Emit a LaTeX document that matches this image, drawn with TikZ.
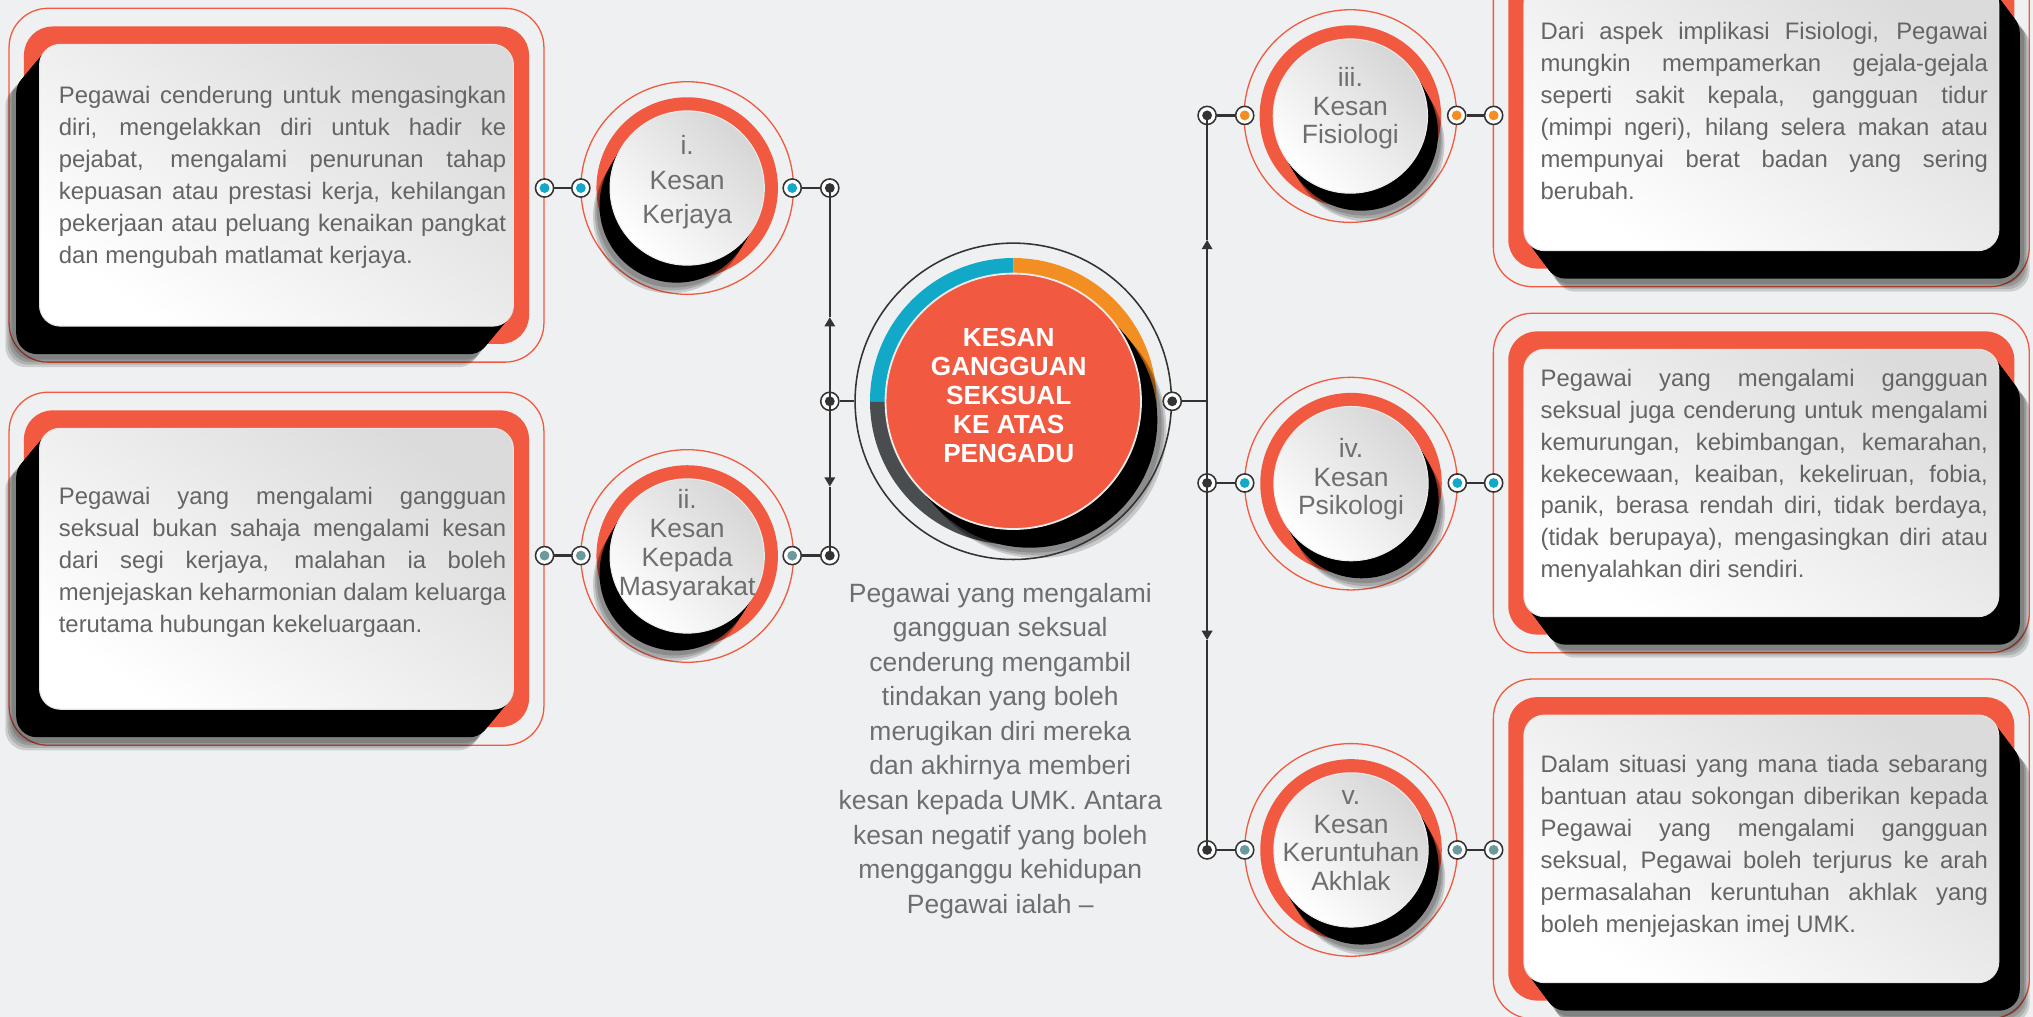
\documentclass[tikz,border=0pt]{standalone}
\usepackage{fontspec}
\setmainfont{Liberation Sans}
\usetikzlibrary{arrows.meta}
\definecolor{bgc}{RGB}{238,240,241}
\definecolor{redc}{RGB}{241,90,64}
\definecolor{cyanc}{RGB}{18,168,200}
\definecolor{orc}{RGB}{243,142,34}
\definecolor{tealc}{RGB}{108,154,156}
\definecolor{darkc}{RGB}{51,51,51}
\definecolor{ringd}{RGB}{74,77,79}
\definecolor{txtc}{RGB}{99,100,102}
\definecolor{ctxt}{RGB}{109,110,112}
\tikzset{
  cardline/.style={draw=redc,line width=0.5pt,rounded corners=15pt},
  cardred/.style={fill=redc,rounded corners=11pt},
  cardwhite/.style={top color=black!14,bottom color=white,shading angle=-35,draw=black!10,line width=0.4pt,rounded corners=8pt},
  discwhite/.style={top color=black!16,bottom color=white,shading angle=-45,draw=black!8,line width=0.4pt},
  conn/.style={draw=darkc,line width=0.9pt},
  tip/.style={-{Triangle[length=3.6pt,width=4pt]}},
  dotring/.style={circle,draw=darkc,fill=white,line width=0.6pt,minimum size=7pt,inner sep=0pt},
  dotin/.style={dotring,path picture={\fill[#1] (path picture bounding box.center) circle (1.9pt);}},
  cardtxt/.style={text=txtc,font=\fontsize{9.2}{12.3}\selectfont,inner sep=0pt},
  circtxt/.style={text=ctxt,font=\fontsize{10.2}{12}\selectfont,inner sep=0pt},
  midtxt/.style={text=ctxt,font=\fontsize{10.2}{13}\selectfont,inner sep=0pt},
  hubtxt/.style={text=white,font=\bfseries\fontsize{10.1}{11}\selectfont,inner sep=0pt}
}
% card: white x1 y1 x2 y2 (y downward), shadow dx dy
\newcommand\crd[6]{%
  \draw[cardline] ({#1-23.5},{-(#2)+27.8}) rectangle ({#3+23.5},{-(#4)-27.8});
  \fill[cardred] ({#1-12},{-(#2)+13.8}) rectangle ({#3+12},{-(#4)-13.8});
  \foreach \q in {1.32,1.24,1.16,1.08}{\fill[black,opacity=0.14,rounded corners=8pt] ({#1+(#5)*\q},{-(#2)-(#6)*\q}) rectangle ({#3+(#5)*\q},{-(#4)-(#6)*\q});}
  \foreach \q in {0,0.1,...,1}{\fill[black,rounded corners=8pt] ({#1+(#5)*\q},{-(#2)-(#6)*\q}) rectangle ({#3+(#5)*\q},{-(#4)-(#6)*\q});}
  \shade[cardwhite] (#1,{-(#2)}) rectangle (#3,{-(#4)});
}
% bubble: cx cy side
\newcommand\bub[3]{%
  \draw[redc,line width=0.5pt] (#1,{-(#2)}) circle (82);
  \fill[redc] (#1,{-(#2)}) circle (70);
  \foreach \q in {1.45,1.3,1.15}{\fill[black,opacity=0.16] ({#1+(#3)*9*\q},{-(#2)-15*\q}) circle (59.5);}
  \foreach \q in {0,0.1,...,1}{\fill[black] ({#1+(#3)*9*\q},{-(#2)-15*\q}) circle (59.5);}
  \shade[discwhite] (#1,{-(#2)}) circle (59.5);
}
\newcommand\ctext[5]{%
  \foreach \myl [count=\myi from 0] in {#5}{\node[circtxt,anchor=base] (#1\myi) at (#2,{-(#3+#4*\myi)}) {\myl};}
}
\newcommand\ptext[6]{%
  \foreach \myl [count=\myi from 0] in {#4}{\node[cardtxt,anchor=base west] (#1\myi) at (#2,{-(#3+24.65*\myi)}) {\makebox[172.5pt][s]{\myl}};}
  \node[cardtxt,anchor=base west] (#1z) at (#2,{-(#3+24.65*#6)}) {#5};
}
\begin{document}
\begin{tikzpicture}[x=0.5pt,y=0.5pt]
\useasboundingbox (0,0) rectangle (1568,-784);
\clip (0,0) rectangle (1568,-784);
\fill[bgc] (0,0) rectangle (1568,-784);

% cards
\crd{30.5}{34.2}{396}{251.5}{-20}{24}
\crd{30.5}{330.3}{396}{547}{-20}{24}
\crd{1175.3}{-12.7}{1541.6}{193.3}{18}{24}
\crd{1175.3}{269.4}{1541.6}{475.6}{18}{24}
\crd{1175.3}{551.5}{1541.6}{757.9}{18}{24}

% bubbles
\bub{530}{145}{-1}
\bub{530}{428.8}{-1}
\bub{1041.5}{89.5}{1}
\bub{1042}{373}{1}
\bub{1042}{655.5}{1}

% hub
\fill[cyanc] (781.5,-309.5) -- ++(180:110.5) arc[start angle=180,end angle=90,radius=110.5] -- cycle;
\fill[orc] (781.5,-309.5) -- ++(90:110.5) arc[start angle=90,end angle=0,radius=110.5] -- cycle;
\fill[ringd] (781.5,-309.5) -- ++(0:110.5) arc[start angle=0,end angle=-180,radius=110.5] -- cycle;
\foreach \q in {1.4,1.27,1.14}{\fill[black,opacity=0.16] ({781.5+14*\q},{-309.5-16*\q}) circle (98.5);}
\foreach \q in {0,0.1,...,1}{\fill[black] ({781.5+14*\q},{-309.5-16*\q}) circle (98.5);}
\filldraw[fill=redc,draw=white!92!black,line width=0.7pt] (781.5,-309.5) circle (98.5);
\node[circle,draw=darkc,line width=0.6pt,minimum size=122pt,inner sep=0pt] (hub) at (781.5,-309.5) {};

% dots
\node[dotin=cyanc] (A1) at (420,-145) {};
\node[dotin=cyanc] (A2) at (448,-145) {};
\node[dotin=cyanc] (A3) at (611,-145) {};
\node[dotin=darkc] (A4) at (640,-145) {};
\node[dotin=tealc] (B1) at (420,-428.5) {};
\node[dotin=tealc] (B2) at (448,-428.5) {};
\node[dotin=tealc] (B3) at (611,-428.5) {};
\node[dotin=darkc] (B4) at (640,-428.5) {};
\node[dotin=darkc] (Lm) at (640,-309.5) {};
\node[dotin=darkc] (Hc) at (hub.east) {};
\node[dotin=darkc] (C1) at (931,-89) {};
\node[dotin=orc] (C2) at (960,-89) {};
\node[dotin=orc] (C3) at (1123.5,-89) {};
\node[dotin=orc] (C4) at (1152,-89) {};
\node[dotin=darkc] (D1) at (931,-372.5) {};
\node[dotin=cyanc] (D2) at (960,-372.5) {};
\node[dotin=cyanc] (D3) at (1124,-372.5) {};
\node[dotin=cyanc] (D4) at (1152,-372.5) {};
\node[dotin=darkc] (E1) at (931,-655.5) {};
\node[dotin=tealc] (E2) at (960,-655.5) {};
\node[dotin=tealc] (E3) at (1124,-655.5) {};
\node[dotin=tealc] (E4) at (1152,-655.5) {};
\coordinate (Rj) at (931,-309.5);
\coordinate (aLU) at (640,-244.6);
\coordinate (aLD) at (640,-375.3);
\coordinate (aRU) at (931,-185);
\coordinate (aRD) at (931,-493.6);

% connectors
\draw[conn] (A1) -- (A2);
\draw[conn] (A3) -- (A4);
\draw[conn] (B1) -- (B2);
\draw[conn] (B3) -- (B4);
\draw[conn] (C1) -- (C2);
\draw[conn] (C3) -- (C4);
\draw[conn] (D1) -- (D2);
\draw[conn] (D3) -- (D4);
\draw[conn] (E1) -- (E2);
\draw[conn] (E3) -- (E4);
\draw[conn] (Lm) -- (hub.west);
\draw[conn] (Hc) -- (Rj);
\draw[conn,tip] (Lm.center) -- (aLU);
\draw[conn] (aLU) -- (A4.center);
\draw[conn,tip] (Lm.center) -- (aLD);
\draw[conn] (aLD) -- (B4.center);
\draw[conn,tip] (Rj) -- (aRU);
\draw[conn] (aRU) -- (C1.center);
\draw[conn] (Rj) -- (D1.center);
\draw[conn,tip] (D1.center) -- (aRD);
\draw[conn] (aRD) -- (E1.center);

% bubble texts
\ctext{ti}{530}{119.5}{26.5}{i.,Kesan,Kerjaya}
\ctext{tii}{530}{392}{22.3}{ii.,Kesan,Kepada,Masyarakat}
\ctext{tiii}{1041.5}{67}{22}{iii.,Kesan,Fisiologi}
\ctext{tiv}{1042}{353}{22}{iv.,Kesan,Psikologi}
\ctext{tv}{1042}{620.8}{22}{v.,Kesan,Keruntuhan,Akhlak}

% hub text
\foreach \myl [count=\myi from 0] in {KESAN,GANGGUAN,SEKSUAL,KE ATAS,PENGADU}{\node[hubtxt,anchor=base] (h\myi) at (778,{-(267+22.5*\myi)}) {\myl};}

% middle text
\foreach \myl [count=\myi from 0] in {Pegawai yang mengalami,gangguan seksual,cenderung mengambil,tindakan yang boleh,merugikan diri mereka,dan akhirnya memberi,kesan kepada UMK. Antara,kesan negatif yang boleh,mengganggu kehidupan,Pegawai ialah –}{\node[midtxt,anchor=base] (m\myi) at (771.5,{-(464.4+26.65*\myi)}) {\myl};}

% card texts
\ptext{pa}{45}{80.2}{{Pegawai cenderung untuk mengasingkan},{diri, mengelakkan diri untuk hadir ke},{pejabat, mengalami penurunan tahap},{kepuasan atau prestasi kerja, kehilangan},{pekerjaan atau peluang kenaikan pangkat}}{dan mengubah matlamat kerjaya.}{5}
\ptext{pb}{45}{389.1}{{Pegawai yang mengalami gangguan},{seksual bukan sahaja mengalami kesan},{dari segi kerjaya, malahan ia boleh},{menjejaskan keharmonian dalam keluarga}}{terutama hubungan kekeluargaan.}{4}
\ptext{pc}{1187.8}{30.5}{{Dari aspek implikasi Fisiologi, Pegawai},{mungkin mempamerkan gejala-gejala},{seperti sakit kepala, gangguan tidur},{(mimpi ngeri), hilang selera makan atau},{mempunyai berat badan yang sering}}{berubah.}{5}
\ptext{pd}{1187.8}{297.8}{{Pegawai yang mengalami gangguan},{seksual juga cenderung untuk mengalami},{kemurungan, kebimbangan, kemarahan,},{kekecewaan, keaiban, kekeliruan, fobia,},{panik, berasa rendah diri, tidak berdaya,},{(tidak berupaya), mengasingkan diri atau}}{menyalahkan diri sendiri.}{6}
\ptext{pe}{1187.8}{595.6}{{Dalam situasi yang mana tiada sebarang},{bantuan atau sokongan diberikan kepada},{Pegawai yang mengalami gangguan},{seksual, Pegawai boleh terjurus ke arah},{permasalahan keruntuhan akhlak yang}}{boleh menjejaskan imej UMK.}{5}
\end{tikzpicture}
\end{document}
